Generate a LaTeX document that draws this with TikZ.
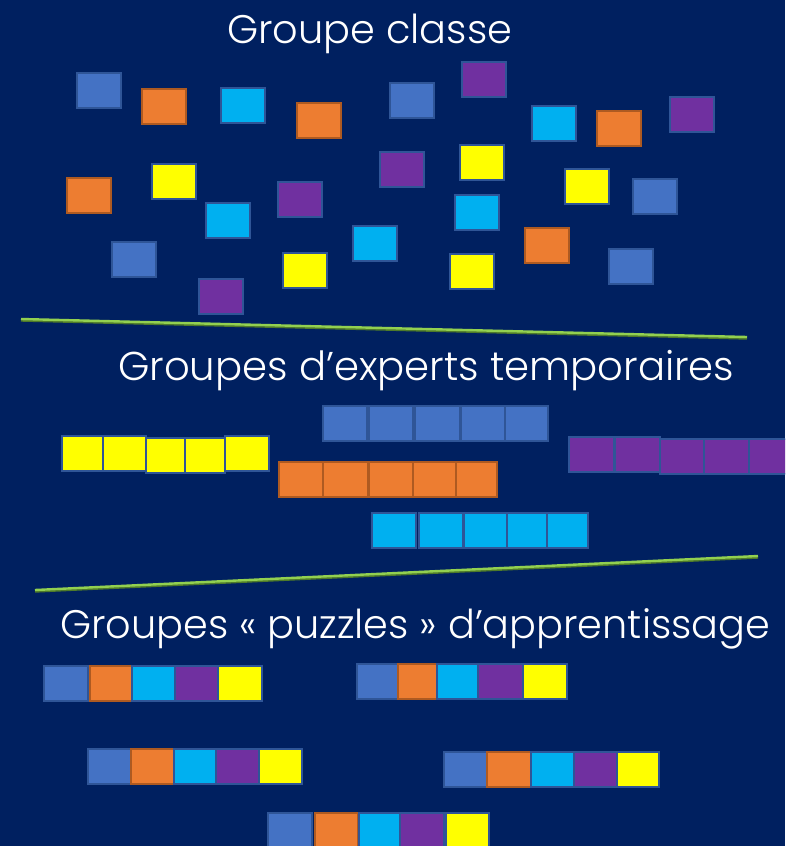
\documentclass[tikz,border=0pt]{standalone}
\usepackage{fontspec}
\setmainfont{Poppins Light}
\usepackage{graphicx}
\definecolor{bg}{HTML}{002060}
\definecolor{cblue}{HTML}{4472C4}
\definecolor{corange}{HTML}{ED7D31}
\definecolor{ccyan}{HTML}{00B0F0}
\definecolor{cpurple}{HTML}{7030A0}
\definecolor{cyellow}{HTML}{FFFF00}
\definecolor{cblueB}{HTML}{2F5597}
\definecolor{corangeB}{HTML}{AE5A21}
\definecolor{ccyanB}{HTML}{2F5597}
\definecolor{cpurpleB}{HTML}{2F5597}
\definecolor{cyellowB}{HTML}{2F5597}
\definecolor{lgreen}{HTML}{92D050}
\definecolor{lshadow}{HTML}{4E7A2A}
\begin{document}
\begin{tikzpicture}[x=1pt,y=-1pt,
  sq/.style={fill=#1, draw=#1B, line width=1.4pt, minimum height=35pt, inner sep=0pt, outer sep=0pt, anchor=north west},
  title/.style={text=white, anchor=base west, inner sep=0pt},
  sepline/.style={draw=lgreen, line width=2.4pt},
  sepshadow/.style={draw=lshadow, line width=2.4pt}]
\fill[bg] (0,0) rectangle (785,846);
\useasboundingbox (0,0) rectangle (785,846);
\clip (0,0) rectangle (785,846);

% titles
\node[title] (t1) at (227,43) {\resizebox{285pt}{!}{Groupe classe}};
\node[title] (t2) at (118,380) {\resizebox{616pt}{!}{Groupes d’experts temporaires}};
\node[title] (t3) at (60,638) {\resizebox{710pt}{!}{Groupes « puzzles » d’apprentissage}};

% separator lines
\coordinate (l1a) at (21,319);
\coordinate (l1b) at (747,337);
\coordinate (l2a) at (35,590);
\coordinate (l2b) at (758,556);
\draw[sepshadow] ([yshift=-1.5pt]l1a) -- ([yshift=-1.5pt]l1b);
\draw[sepline] (l1a) -- (l1b);
\draw[sepshadow] ([yshift=-1.5pt]l2a) -- ([yshift=-1.5pt]l2b);
\draw[sepline] (l2a) -- (l2b);

% whole class, scattered
\foreach \x/\y/\c [count=\i] in {
  77/73/cblue, 390/83/cblue, 633/179/cblue, 112/242/cblue, 609/249/cblue,
  142/89/corange, 297/103/corange, 597/111/corange, 67/178/corange, 525/228/corange,
  221/88/ccyan, 532/106/ccyan, 206/203/ccyan, 455/195/ccyan, 353/226/ccyan,
  462/62/cpurple, 670/97/cpurple, 380/152/cpurple, 278/182/cpurple, 199/279/cpurple,
  152/164/cyellow, 460/145/cyellow, 565/169/cyellow, 283/253/cyellow, 450/254/cyellow}
  \node[sq=\c, minimum width=44pt] (c\i) at (\x,\y) {};

% expert groups
\foreach \x/\y/\w/\c [count=\i] in {
  323/406/44/cblue, 369/406/44/cblue, 415/406/45/cblue, 461/406/44/cblue, 505/406/43/cblue,
  279/462/44/corange, 323/462/45/corange, 369/462/44/corange, 413/462/43/corange, 456/462/41/corange,
  372/513/44/ccyan, 419/513/44/ccyan, 464/513/43/ccyan, 507/513/40/ccyan, 547/513/41/ccyan,
  62/436/42/cyellow, 103/436/43/cyellow, 146/438/39/cyellow, 185/438/40/cyellow, 225/436/44/cyellow,
  569/437/45/cpurple, 615/437/45/cpurple, 660/439/44/cpurple, 704/439/45/cpurple, 749/439/46/cpurple}
  \node[sq=\c, minimum width=\w pt] (e\i) at (\x,\y) {};

% jigsaw groups
\foreach \x/\y/\w/\c [count=\i] in {
  44/666/44/cblue, 90/666/42/corange, 132/666/43/ccyan, 175/666/43/cpurple, 218/666/44/cyellow,
  357/664/41/cblue, 398/664/39/corange, 437/664/41/ccyan, 478/664/45/cpurple, 523/664/44/cyellow,
  88/749/43/cblue, 131/749/43/corange, 174/749/42/ccyan, 216/749/43/cpurple, 259/749/43/cyellow,
  444/752/43/cblue, 487/752/44/corange, 531/752/43/ccyan, 574/752/43/cpurple, 617/752/42/cyellow}
  \node[sq=\c, minimum width=\w pt] (p\i) at (\x,\y) {};
\foreach \x/\w/\c [count=\i] in {
  268/44/cblue, 315/43/corange, 359/41/ccyan, 400/44/cpurple, 446/43/cyellow}
  \node[sq=\c, minimum width=\w pt, minimum height=40pt] (q\i) at (\x,813) {};
\end{tikzpicture}
\end{document}
